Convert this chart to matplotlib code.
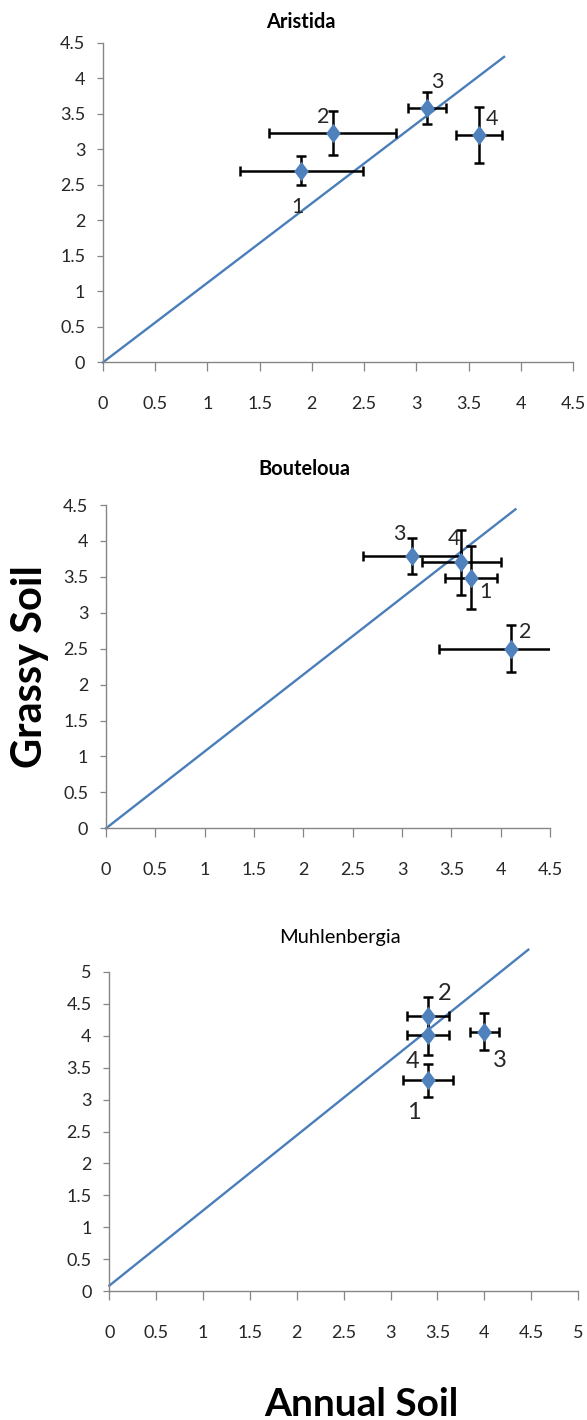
import matplotlib.pyplot as plt
import numpy as np
from matplotlib.path import Path

plt.rcParams["font.family"] = ["Lato", "DejaVu Sans"]

# --- data ---
aristida_x = [1.9, 2.2, 3.1, 3.6]
aristida_y = [2.7, 3.23, 3.58, 3.2]
aristida_xerr = [0.59, 0.61, 0.18, 0.22]
aristida_yerr = [0.21, 0.31, 0.22, 0.4]
aristida_line_x = [0, 3.84]
aristida_line_y = [0, 4.3]

bouteloua_x = [3.7, 4.1, 3.1, 3.6]
bouteloua_y = [3.49, 2.5, 3.79, 3.7]
bouteloua_xerr = [0.26, 0.72, 0.5, 0.4]
bouteloua_yerr = [0.435, 0.33, 0.25, 0.45]
bouteloua_line_x = [0, 4.15]
bouteloua_line_y = [0, 4.44]

muhlenbergia_x = [3.4, 3.4, 4.0, 3.4]
muhlenbergia_y = [3.3, 4.31, 4.06, 4.01]
muhlenbergia_xerr = [0.27, 0.22, 0.155, 0.22]
muhlenbergia_yerr = [0.26, 0.3, 0.29, 0.31]
muhlenbergia_line_x = [0, 4.47]
muhlenbergia_line_y = [0.084, 5.35]

point_labels = ["1", "2", "3", "4"]

W, H, DPI = 587, 1420, 100
BLUE = "#4F81BD"
AXIS_GREY = "#868686"

# tall diamond like the Excel marker
diamond = Path([(0, 1), (0.75, 0), (0, -1), (-0.75, 0), (0, 1)],
               [Path.MOVETO, Path.LINETO, Path.LINETO, Path.LINETO, Path.CLOSEPOLY])

panels = [
    dict(title="Aristida", weight="bold", x=aristida_x, y=aristida_y,
         xerr=aristida_xerr, yerr=aristida_yerr,
         lx=aristida_line_x, ly=aristida_line_y, lim=4.5,
         rect=(103, 42.7, 573, 362.3), title_xy=(301, 22),
         offsets=[(-4, -36), (-10, 16), (11, 26), (13, 16)], label_size=15.5),
    dict(title="Bouteloua", weight="bold", x=bouteloua_x, y=bouteloua_y,
         xerr=bouteloua_xerr, yerr=bouteloua_yerr,
         lx=bouteloua_line_x, ly=bouteloua_line_y, lim=4.5,
         rect=(106, 505, 550, 828.3), title_xy=(304, 469),
         offsets=[(14, -14), (15, 17), (-13, 22), (-7, 23)], label_size=15.5),
    dict(title="Muhlenbergia", weight="normal", x=muhlenbergia_x, y=muhlenbergia_y,
         xerr=muhlenbergia_xerr, yerr=muhlenbergia_yerr,
         lx=muhlenbergia_line_x, ly=muhlenbergia_line_y, lim=5,
         rect=(109.3, 972, 578, 1291), title_xy=(340, 938),
         offsets=[(-14, -32), (17, 23), (16, -29), (-15, -26)], label_size=17),
]

fig = plt.figure(figsize=(W / DPI, H / DPI), dpi=DPI)
px = 72 / DPI  # pixels -> points

for p in panels:
    left, top, right, bottom = p["rect"]
    ax = fig.add_axes([left / W, 1 - bottom / H, (right - left) / W, (bottom - top) / H])

    # the 1:1-ish reference line runs past the top of the last panel
    ax.plot(p["lx"], p["ly"], color="#4A7EBB", linewidth=1.7, zorder=2, clip_on=False)
    ax.errorbar(p["x"], p["y"], xerr=p["xerr"], yerr=p["yerr"], fmt="none",
                ecolor="black", elinewidth=1.8, capsize=3.4, capthick=1.8, zorder=3)
    ax.plot(p["x"], p["y"], linestyle="none", marker=diamond, markersize=14,
            color=BLUE, markeredgewidth=0, zorder=4)

    for lab, x, y, (dx, dy) in zip(point_labels, p["x"], p["y"], p["offsets"]):
        ax.annotate(lab, (x, y), xytext=(dx * px, dy * px), textcoords="offset points",
                    ha="center", va="center", fontsize=p["label_size"],
                    color="#262626", annotation_clip=False)

    lim = p["lim"]
    ticks = np.arange(0, lim + 0.01, 0.5)
    ax.set_xlim(0, lim)
    ax.set_ylim(0, lim)
    ax.set_xticks(ticks)
    ax.set_yticks(ticks)
    ax.set_xticklabels([f"{t:g}" for t in ticks])
    ax.set_yticklabels([f"{t:g}" for t in ticks])

    for side in ["top", "right"]:
        ax.spines[side].set_visible(False)
    for side in ["left", "bottom"]:
        ax.spines[side].set_color(AXIS_GREY)
        ax.spines[side].set_linewidth(1.0)

    ax.tick_params(axis="x", direction="out", length=6.5, width=0.9, color=AXIS_GREY,
                   pad=18, labelsize=13, labelcolor="#262626")
    ax.tick_params(axis="y", direction="out", length=4.3, width=0.9, color=AXIS_GREY,
                   pad=8.5, labelsize=13, labelcolor="#262626")

    tx, ty = p["title_xy"]
    fig.text(tx / W, 1 - ty / H, p["title"], ha="center", va="center",
             fontsize=14.4, fontweight=p["weight"], color="black")

fig.text(30 / W, 1 - 667 / H, "Grassy Soil", rotation=90, ha="center", va="center",
         fontsize=30, fontweight="bold", color="black")
fig.text(361 / W, 1 - 1416 / H, "Annual Soil", ha="center", va="baseline",
         fontsize=28, fontweight="bold", color="black")

fig.savefig("out.png", dpi=DPI)
